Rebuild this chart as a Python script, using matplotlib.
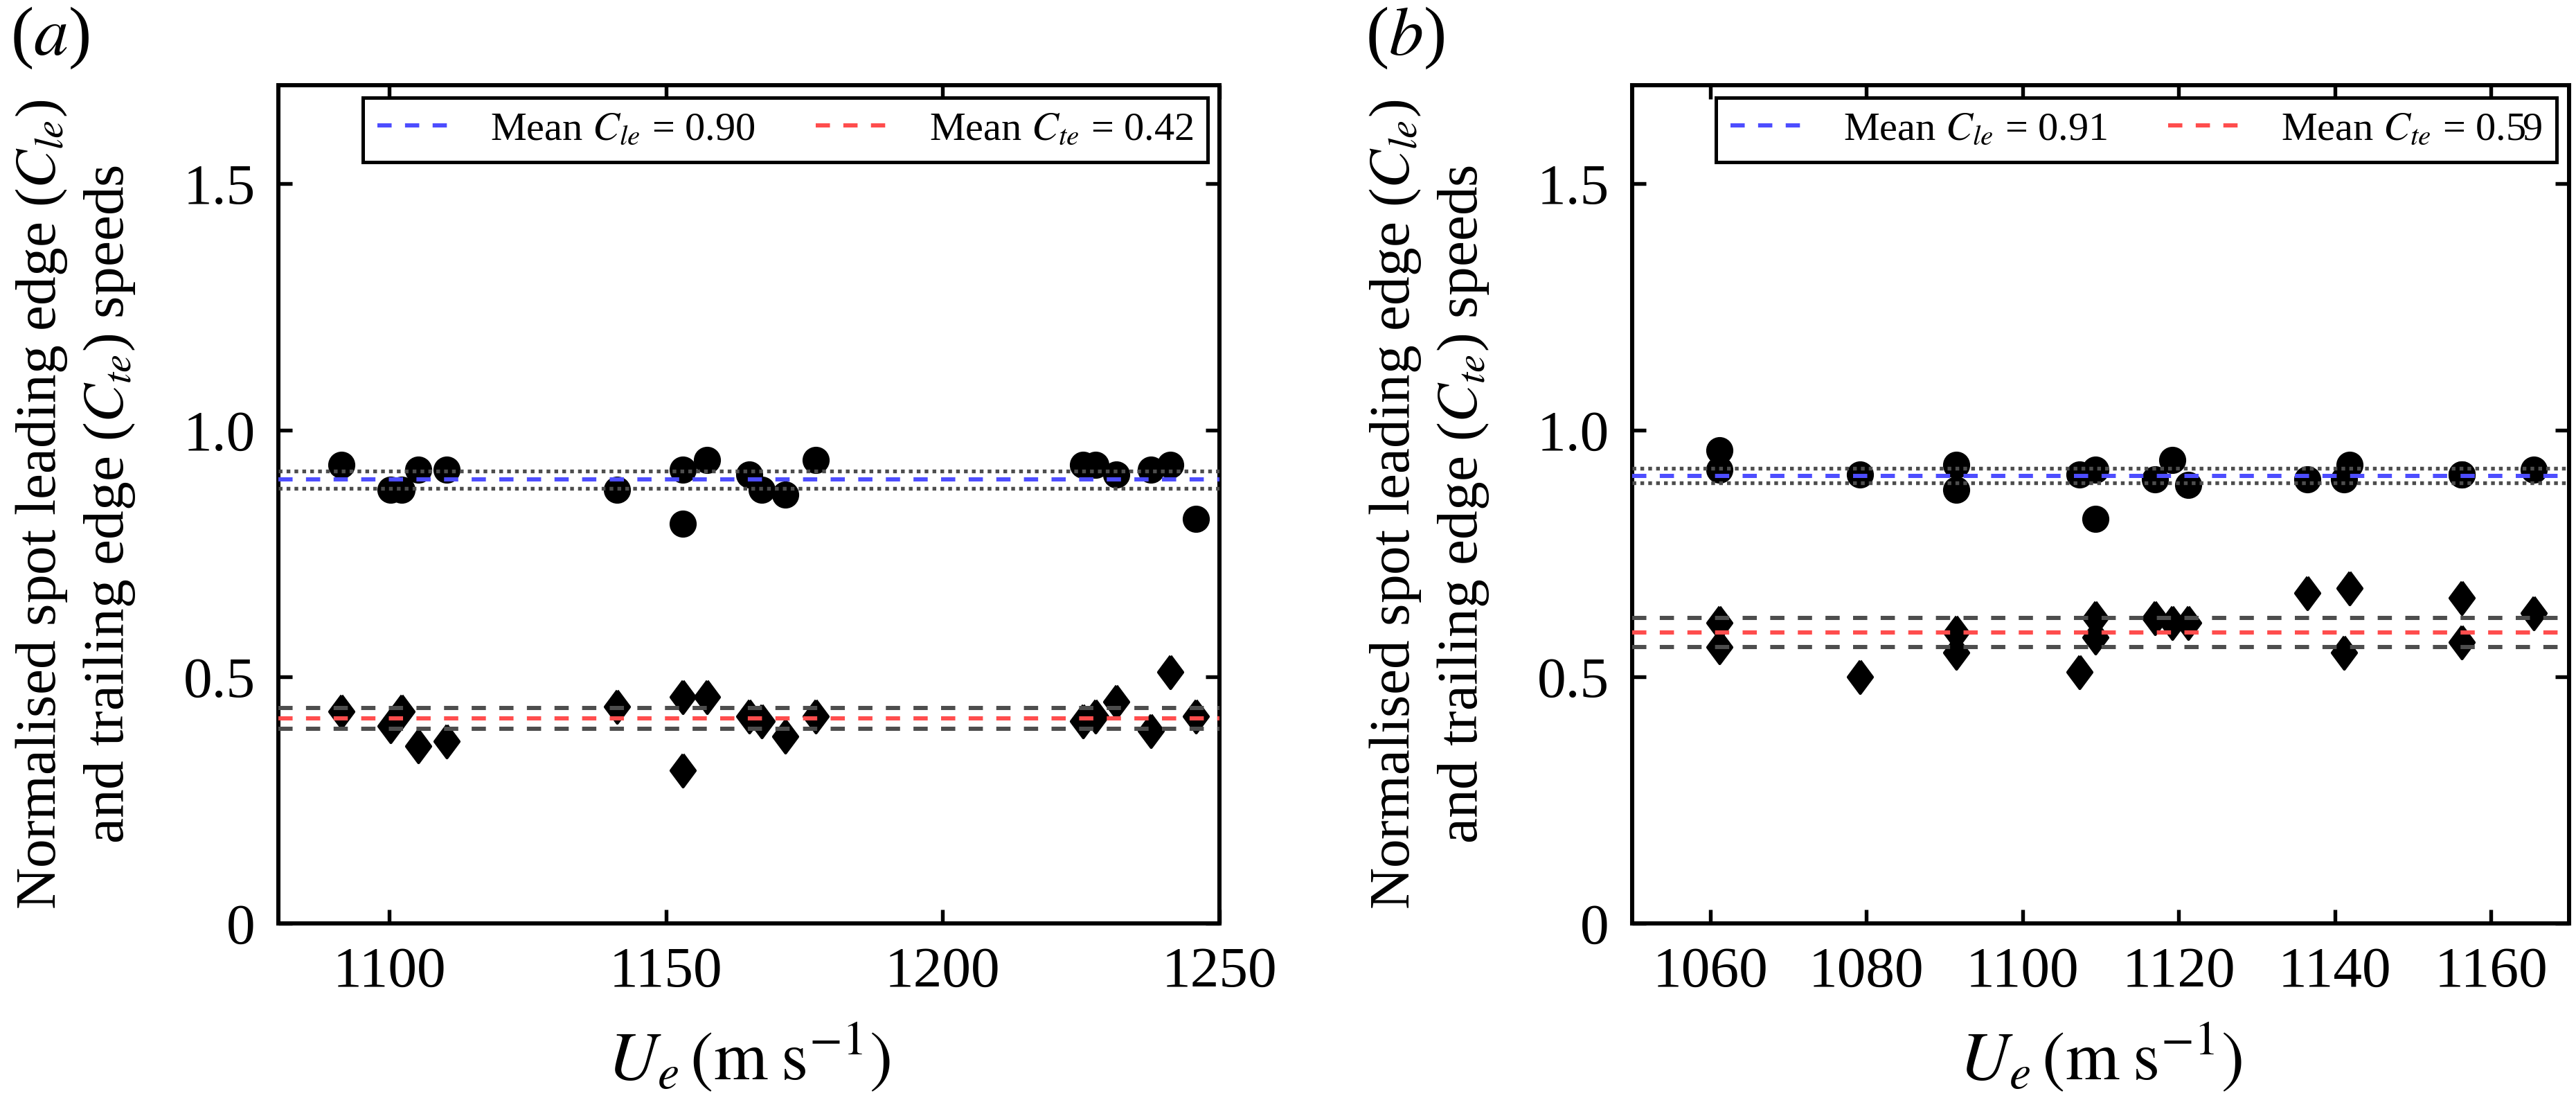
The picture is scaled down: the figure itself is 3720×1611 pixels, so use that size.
import matplotlib
matplotlib.use("Agg")
import matplotlib.pyplot as plt
from matplotlib.lines import Line2D

plt.rcParams["font.family"] = ["Liberation Serif", "DejaVu Serif"]
plt.rcParams["mathtext.fontset"] = "stix"

# panel (a): freestream speed and normalised edge speeds
ue_a = [1091.4, 1100.2, 1102.3, 1105.3, 1110.4, 1141.2, 1153.0, 1153.0, 1157.4,
        1165.1, 1167.3, 1171.5, 1177.0, 1225.4, 1227.6, 1231.4, 1237.6, 1241.1, 1245.8]
cle_a = [0.93, 0.88, 0.88, 0.92, 0.92, 0.88, 0.92, 0.81, 0.94,
         0.91, 0.88, 0.87, 0.94, 0.93, 0.93, 0.91, 0.92, 0.93, 0.82]
cte_a = [0.43, 0.40, 0.43, 0.36, 0.37, 0.44, 0.46, 0.31, 0.46,
         0.42, 0.41, 0.38, 0.42, 0.41, 0.42, 0.45, 0.39, 0.51, 0.42]
mean_le_a, ci_le_a = 0.900, 0.018
mean_te_a, ci_te_a = 0.416, 0.021

# panel (b)
ue_b = [1061.2, 1061.2, 1079.2, 1091.5, 1091.5, 1107.3, 1109.3, 1109.3, 1117.0,
        1119.2, 1121.2, 1136.5, 1141.2, 1141.9, 1156.3, 1156.3, 1165.5]
cle_b = [0.96, 0.92, 0.91, 0.93, 0.88, 0.91, 0.92, 0.82, 0.90,
         0.94, 0.89, 0.90, 0.90, 0.93, 0.91, 0.91, 0.92]
cte_b = [0.61, 0.56, 0.50, 0.59, 0.55, 0.51, 0.62, 0.58, 0.62,
         0.61, 0.61, 0.67, 0.55, 0.68, 0.66, 0.57, 0.63]
mean_le_b, ci_le_b = 0.908, 0.015
mean_te_b, ci_te_b = 0.590, 0.030

xticks_a = [1100, 1150, 1200, 1250]
xticks_b = [1060, 1080, 1100, 1120, 1140, 1160]
yticks = [0, 0.5, 1.0, 1.5]
ytick_labels = ["0", "0.5", "1.0", "1.5"]

BLUE = "#4d4dff"
RED = "#ff4d4d"
GREY = "#4d4d4d"
DIAMOND = [(0, 1), (0.745, 0), (0, -1), (-0.745, 0), (0, 1)]

fig = plt.figure(figsize=(12.4, 5.37), dpi=300)
ax_a = fig.add_axes([0.1081, 0.1726, 0.3653, 0.7510])
ax_b = fig.add_axes([0.6336, 0.1726, 0.3637, 0.7510])


def draw_panel(ax, ue, cle, cte, m_le, c_le, m_te, c_te, xlim, xticks):
    ax.plot(ue, cle, linestyle="none", marker="o", markersize=8.4,
            color="black", zorder=2)
    ax.plot(ue, cte, linestyle="none", marker=DIAMOND, markersize=11.3,
            color="black", zorder=2)

    ax.axhline(m_le + c_le, color=GREY, lw=1.3, dashes=(1, 1.1), zorder=3)
    ax.axhline(m_le - c_le, color=GREY, lw=1.3, dashes=(1, 1.1), zorder=3)
    ax.axhline(m_le, color=BLUE, lw=1.45, dashes=(3.4, 3.2), zorder=3)
    ax.axhline(m_te + c_te, color=GREY, lw=1.45, dashes=(3.4, 3.2), zorder=3)
    ax.axhline(m_te - c_te, color=GREY, lw=1.45, dashes=(3.4, 3.2), zorder=3)
    ax.axhline(m_te, color=RED, lw=1.45, dashes=(3.4, 3.2), zorder=3)

    ax.set_xlim(*xlim)
    ax.set_ylim(0, 1.7)
    ax.set_xticks(xticks)
    ax.set_yticks(yticks)
    ax.set_yticklabels(ytick_labels)
    ax.tick_params(direction="in", top=True, right=True, length=4.8,
                   width=1.3, labelsize=20, pad=8)
    for sp in ax.spines.values():
        sp.set_linewidth(1.45)

    ax.set_xlabel(r"$U_e\,(\mathrm{m\;s^{-1}})$", fontsize=24, labelpad=8)
    ax.set_ylabel("Normalised spot leading edge ($C_{le}$)\n"
                  "and trailing edge ($C_{te}$) speeds",
                  fontsize=20, labelpad=16, linespacing=1.3)

    handles = [Line2D([], [], color=BLUE, lw=1.45, dashes=(3.4, 3.2)),
               Line2D([], [], color=RED, lw=1.45, dashes=(3.4, 3.2))]
    labels = [f"Mean $C_{{le}}$ = {m_le:.2f}", f"Mean $C_{{te}}$ = {m_te:.2f}"]
    leg = ax.legend(handles, labels, ncol=2, loc="upper right", fontsize=14,
                    frameon=True, fancybox=False, framealpha=1,
                    edgecolor="black", borderaxespad=0.3, handlelength=2.0,
                    columnspacing=1.5, borderpad=0.35)
    leg.get_frame().set_linewidth(1.2)


draw_panel(ax_a, ue_a, cle_a, cte_a, mean_le_a, ci_le_a, mean_te_a, ci_te_a,
           (1080, 1250), xticks_a)
draw_panel(ax_b, ue_b, cle_b, cte_b, mean_le_b, ci_le_b, mean_te_b, ci_te_b,
           (1050, 1170), xticks_b)

fig.text(0.004, 0.966, "($a$)", fontsize=24, ha="left", va="center")
fig.text(0.530, 0.966, "($b$)", fontsize=24, ha="left", va="center")

fig.savefig("out.png", dpi=300)
